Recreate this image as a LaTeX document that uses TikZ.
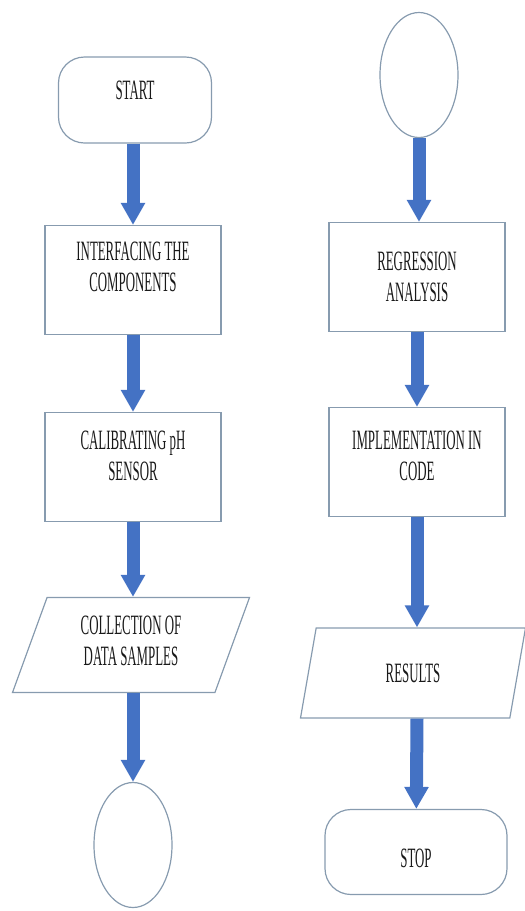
\documentclass[tikz,border=0pt]{standalone}
\usepackage{fontspec}
\setmainfont{Liberation Serif}[FakeStretch=0.46]
\usetikzlibrary{arrows.meta, shapes.geometric}
\definecolor{flowblue}{RGB}{68,114,196}
\definecolor{edgegray}{RGB}{135,155,175}

\begin{document}
\begin{tikzpicture}[
    x=0.5pt, y=-0.5pt,
    font=\fontsize{14pt}{15.5pt}\selectfont,
    term/.style={rectangle, draw=edgegray, line width=0.6pt, rounded corners=13pt, minimum width=76.5pt, minimum height=43pt, text=black!90},
    procbox/.style={rectangle, draw=edgegray, line width=0.6pt, minimum width=88pt, minimum height=54.5pt, align=center, text=black!90},
    io/.style={trapezium, trapezium left angle=64, trapezium right angle=116, trapezium stretches body, draw=edgegray, line width=0.6pt, minimum width=118.5pt, minimum height=47.5pt, align=center, text=black!90},
    conn/.style={ellipse, draw=edgegray, line width=0.6pt, minimum width=39pt, minimum height=62.5pt},
    flow/.style={draw=flowblue, line width=6.5pt, -{Triangle[width=11.5pt, length=11pt]}}
]
    \useasboundingbox (0,0) rectangle (525,911);

    % Left column
    \node[term, text depth=10pt] (start) at (135,100) {START};
    \node[procbox, text depth=13pt] (iface) at (133,280) {INTERFACING THE\\COMPONENTS};
    \node[procbox, text depth=11pt] (calib) at (133,467) {CALIBRATING pH\\SENSOR};
    \node[io, text depth=4pt] (collect) at (131,645) {COLLECTION OF\\DATA SAMPLES};
    \node[conn] (endL) at (133,845) {};

    % Right column
    \node[conn] (connR) at (419,75) {};
    \node[procbox] (regress) at (417,277) {REGRESSION\\ANALYSIS};
    \node[procbox, text depth=6pt] (impl) at (417,462) {IMPLEMENTATION IN\\CODE};
    \node[io, minimum width=112.5pt, minimum height=45pt] (results) at (413,673) {RESULTS};
    \node[term, minimum width=91pt, minimum height=42.5pt, text height=15pt, text depth=0pt] (stop) at (416,852) {STOP};

    % Arrows, left
    \draw[flow] (start.south -| iface) -- (iface);
    \draw[flow] (iface) -- (calib);
    \draw[flow] (calib) -- (calib |- collect.north);
    \draw[flow] (calib |- collect.south) -- (endL);

    % Arrows, right
    \draw[flow] (connR) -- (connR |- regress.north);
    \draw[flow] (regress) -- (impl);
    \draw[flow] (impl) -- (impl |- results.north);
    \draw[flow] (impl |- results.south) -- (stop);
\end{tikzpicture}
\end{document}
